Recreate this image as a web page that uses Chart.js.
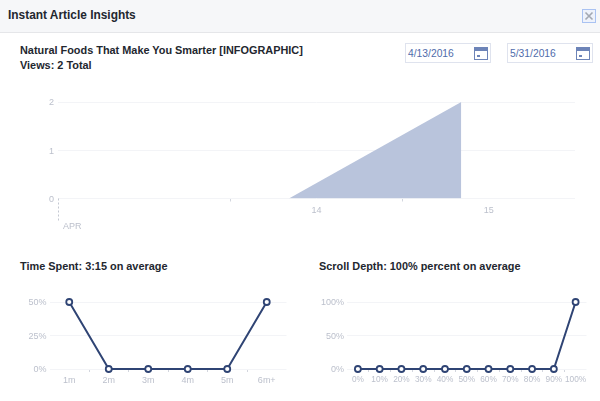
<!DOCTYPE html>
<html>
<head>
<meta charset="utf-8">
<script src="https://cdn.jsdelivr.net/npm/chart.js@4"></script>
<style>
  body { margin: 0; width: 600px; height: 401px; background: #fff; overflow: hidden; position: relative;
         font-family: "Liberation Sans", Arial, sans-serif; color: #23272f; }
  canvas { position: absolute; }
  .header { position: absolute; left: 0; top: 0; width: 600px; height: 32px; background: #f6f7f9; border-bottom: 1px solid #e5e6e9; }
  .text { position: absolute; font-weight: bold; white-space: nowrap; }
  .date { position: absolute; top: 43px; width: 84px; height: 18px; border: 1px solid #dfe3ee; color: #4f6cab; font-size: 10.3px; line-height: 19px; text-indent: 2px; }
  .date svg { position: absolute; right: 2px; top: 3px; }
  .close { position: absolute; left: 582px; top: 9px; }
</style>
</head>
<body>
<div class="header"></div>
<div class="text" style="left:8px;top:8px;font-size:11.9px">Instant Article Insights</div>
<svg class="close" width="14" height="14"><rect x="0.5" y="0.5" width="13" height="13" fill="#eef2fb" stroke="#a9c2f2"/><path d="M3.5 3.5L10.5 10.5M10.5 3.5L3.5 10.5" stroke="#a3a8b2" stroke-width="1.6"/></svg>
<div class="text" style="left:20px;top:44px;font-size:10.9px">Natural Foods That Make You Smarter [INFOGRAPHIC]</div>
<div class="text" style="left:20px;top:59px;font-size:10.9px">Views: 2 Total</div>
<div class="date" style="left:405px">4/13/2016<svg width="14" height="13"><rect x="0.5" y="0.5" width="13" height="12" fill="#fff" stroke="#6d84b8"/><rect x="1" y="1" width="12" height="3" fill="#6d84b8"/><rect x="3" y="8" width="3" height="2" fill="#6d84b8"/></svg></div>
<div class="date" style="left:507px">5/31/2016<svg width="14" height="13"><rect x="0.5" y="0.5" width="13" height="12" fill="#fff" stroke="#6d84b8"/><rect x="1" y="1" width="12" height="3" fill="#6d84b8"/><rect x="3" y="8" width="3" height="2" fill="#6d84b8"/></svg></div>
<div class="text" style="left:20px;top:260px;font-size:10.9px">Time Spent: 3:15 on average</div>
<div class="text" style="left:319px;top:260px;font-size:10.9px">Scroll Depth: 100% percent on average</div>

<canvas id="views" width="600" height="150" style="left:0;top:90px;width:600px;height:150px"></canvas>
<canvas id="time" width="300" height="110" style="left:0;top:285px;width:300px;height:110px"></canvas>
<canvas id="scroll" width="300" height="110" style="left:300px;top:285px;width:300px;height:110px"></canvas>

<script>
// views over days, x is day of april
var viewDays = [14.34, 15.34, 15.34];
var viewCounts = [0, 2, 0];
var dayLabels = { 14.5: '14', 15.5: '15' };
var monthLabel = 'APR';

var timeLabels = ['1m', '2m', '3m', '4m', '5m', '6m+'];
var timeValues = [50, 0, 0, 0, 0, 50];

var scrollLabels = ['0%', '10%', '20%', '30%', '40%', '50%', '60%', '70%', '80%', '90%', '100%'];
var scrollValues = [0, 0, 0, 0, 0, 0, 0, 0, 0, 0, 100];

var gridColor = '#f3f4f7';
var tickColor = '#d3d6de';
var labelColor = '#bcc0cc';
var lineColor = '#2f4474';
var fontFamily = '"Liberation Sans", Arial, sans-serif';
var tickFont = { family: fontFamily, size: 9 };

Chart.defaults.animation = false;
Chart.defaults.responsive = false;
Chart.defaults.plugins.legend.display = false;
Chart.defaults.plugins.tooltip.enabled = false;

// dashed month marker at the left end of the day axis
var monthMarker = {
  id: 'monthMarker',
  afterDraw: function(chart) {
    var ctx = chart.ctx;
    var x = chart.scales.x.getPixelForValue(13);
    var y = chart.scales.x.top;
    ctx.save();
    ctx.strokeStyle = '#c4c8d2';
    ctx.setLineDash([2, 2]);
    ctx.beginPath();
    ctx.moveTo(x + 0.5, y);
    ctx.lineTo(x + 0.5, y + 23);
    ctx.stroke();
    ctx.fillStyle = labelColor;
    ctx.font = '9px ' + fontFamily;
    ctx.textBaseline = 'middle';
    ctx.fillText(monthLabel, x + 5, y + 28);
    ctx.restore();
  }
};

new Chart(document.getElementById('views'), {
  type: 'line',
  data: {
    datasets: [{
      data: viewDays.map(function(d, i) { return { x: d, y: viewCounts[i] }; }),
      backgroundColor: '#b9c4dc',
      borderWidth: 0,
      pointRadius: 0,
      fill: 'origin',
      tension: 0
    }]
  },
  options: {
    layout: { padding: { top: 12, right: 25 } },
    scales: {
      x: {
        type: 'linear',
        min: 13,
        max: 16,
        afterFit: function(scale) { scale.height = 41.5; },
        afterBuildTicks: function(scale) {
          scale.ticks = [13, 13.5, 14, 14.5, 15, 15.5, 16].map(function(v) { return { value: v }; });
        },
        border: { display: false },
        grid: {
          drawOnChartArea: false,
          tickLength: 3,
          tickColor: function(c) {
            var v = c.tick && c.tick.value;
            return (v === 14 || v === 15) ? tickColor : 'transparent';
          }
        },
        ticks: {
          autoSkip: false,
          maxRotation: 0,
          color: labelColor,
          font: tickFont,
          padding: 4,
          callback: function(v) { return dayLabels[v] || ''; }
        }
      },
      y: {
        min: 0,
        max: 2,
        afterFit: function(scale) { scale.width = 58; },
        border: { display: false },
        grid: { color: gridColor, drawTicks: false },
        ticks: { stepSize: 1, color: labelColor, font: tickFont, padding: 4, labelOffset: 1 }
      }
    }
  },
  plugins: [monthMarker]
});

function smallChart(id, labels, values, maxY, step, yWidth, xFontSize) {
  new Chart(document.getElementById(id), {
    type: 'line',
    data: {
      labels: labels,
      datasets: [{
        data: values,
        borderColor: lineColor,
        borderWidth: 2,
        pointRadius: 3,
        pointBorderWidth: 1.8,
        pointBackgroundColor: '#fff',
        pointBorderColor: lineColor,
        tension: 0,
        clip: false
      }]
    },
    options: {
      layout: { padding: { top: 17, right: 13.5 } },
      scales: {
        x: {
          offset: true,
          afterFit: function(scale) { scale.height = 26; },
          border: { display: false },
          grid: {
            offset: true,
            drawOnChartArea: false,
            tickLength: 3,
            tickColor: function(c) { return c.index ? tickColor : 'transparent'; }
          },
          ticks: {
            autoSkip: false,
            maxRotation: 0,
            color: labelColor,
            font: { family: fontFamily, size: xFontSize },
            padding: 3
          }
        },
        y: {
          min: 0,
          max: maxY,
          afterFit: function(scale) { scale.width = yWidth; },
          border: { display: false },
          grid: { color: gridColor, drawTicks: false },
          ticks: {
            stepSize: step,
            color: labelColor,
            font: tickFont,
            padding: 3,
            labelOffset: 1,
            callback: function(v) { return v + '%'; }
          }
        }
      }
    }
  });
}

smallChart('time', timeLabels, timeValues, 50, 25, 49.5, 9);
smallChart('scroll', scrollLabels, scrollValues, 100, 50, 47, 8.3);
</script>
</body>
</html>
